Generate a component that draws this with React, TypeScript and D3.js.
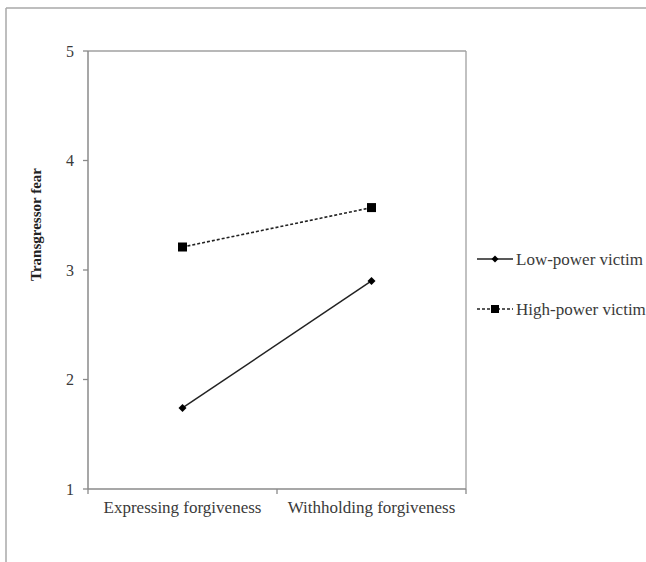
import React from "react";
import * as d3 from "d3";

const categories = ["Expressing forgiveness", "Withholding forgiveness"];
const lowPower = [1.74, 2.9];
const highPower = [3.21, 3.57];
const yTicks = [1, 2, 3, 4, 5];
const seriesNames = ["Low-power victim", "High-power victim"];

export default function App() {
  const W = 646, H = 562;
  const left = 88, right = 466, top = 51, bottom = 489;
  const x = d3.scaleBand<string>().domain(categories).range([left, right]).padding(0);
  const y = d3.scaleLinear().domain([1, 5]).range([bottom, top]);
  const line = d3.line<number>().x((_, i) => x(categories[i])! + x.bandwidth() / 2).y((d) => y(d));
  const font = "Times New Roman, Liberation Serif, DejaVu Serif, serif";
  const axisColor = "#8a8a8a";
  const textColor = "#3a3a3a";
  const xTicks = [left, ...categories.map((c) => x(c)! + x.bandwidth())];
  const diamond = (cx: number, cy: number, r: number) =>
    `M${cx},${cy - r}L${cx + r},${cy}L${cx},${cy + r}L${cx - r},${cy}Z`;

  return (
    <svg width={W} height={H} style={{ position: "absolute", left: 0, top: 0, background: "#fff" }}>
      <rect x={0} y={0} width={W} height={H} fill="#fff" />
      {/* outer frame */}
      <line x1={6} y1={8} x2={W} y2={8} stroke="#a8a8a8" strokeWidth={1.5} />
      <line x1={6} y1={8} x2={6} y2={H} stroke="#a8a8a8" strokeWidth={1.5} />
      {/* plot frame */}
      <line x1={left} y1={top} x2={right} y2={top} stroke="#a0a0a0" strokeWidth={1.3} />
      <line x1={right} y1={top} x2={right} y2={bottom} stroke="#a0a0a0" strokeWidth={1.3} />
      <line x1={left} y1={top} x2={left} y2={bottom} stroke={axisColor} strokeWidth={1.5} />
      <line x1={left} y1={bottom} x2={right} y2={bottom} stroke={axisColor} strokeWidth={1.5} />
      {yTicks.map((t) => (
        <g key={t}>
          <line x1={left - 5} x2={left} y1={y(t)} y2={y(t)} stroke={axisColor} strokeWidth={1.3} />
          <text x={left - 14} y={y(t)} dy="0.35em" textAnchor="end" fontFamily={font} fontSize={16} fill={textColor}>
            {t}
          </text>
        </g>
      ))}
      {xTicks.map((t, i) => (
        <line key={i} x1={t} x2={t} y1={bottom} y2={bottom + 5} stroke={axisColor} strokeWidth={1.3} />
      ))}
      {categories.map((c) => (
        <text key={c} x={x(c)! + x.bandwidth() / 2} y={bottom + 24} textAnchor="middle" fontFamily={font} fontSize={17} fill={textColor}>
          {c}
        </text>
      ))}
      <text
        transform={`translate(41,224.5) rotate(-90)`}
        textAnchor="middle"
        fontFamily={font}
        fontSize={15}
        fontWeight="bold"
        fill="#222"
      >
        Transgressor fear
      </text>
      {/* series */}
      <path d={line(lowPower)!} fill="none" stroke="#222" strokeWidth={1.5} />
      <path d={line(highPower)!} fill="none" stroke="#222" strokeWidth={1.6} strokeDasharray="3,2" />
      {lowPower.map((v, i) => (
        <path key={i} d={diamond(x(categories[i])! + x.bandwidth() / 2, y(v), 4)} fill="#000" />
      ))}
      {highPower.map((v, i) => (
        <rect key={i} x={x(categories[i])! + x.bandwidth() / 2 - 4.5} y={y(v) - 4.5} width={9} height={9} fill="#000" />
      ))}
      {/* legend */}
      <g>
        <line x1={477} x2={513} y1={259} y2={259} stroke="#222" strokeWidth={1.5} />
        <path d={diamond(495, 259, 3.5)} fill="#000" />
        <text x={516} y={259} dy="0.35em" fontFamily={font} fontSize={17} fill={textColor}>{seriesNames[0]}</text>
        <line x1={477} x2={513} y1={309} y2={309} stroke="#222" strokeWidth={1.6} strokeDasharray="3,2" />
        <rect x={491} y={305} width={8} height={8} fill="#000" />
        <text x={516} y={309} dy="0.35em" fontFamily={font} fontSize={17} fill={textColor}>{seriesNames[1]}</text>
      </g>
    </svg>
  );
}
